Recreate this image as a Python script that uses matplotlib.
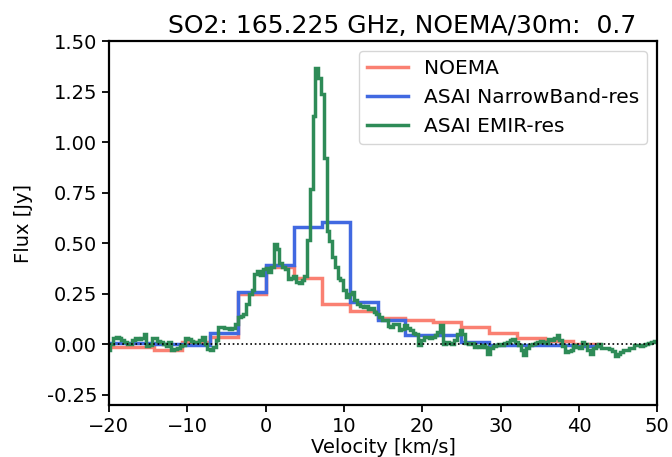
import matplotlib
matplotlib.use("Agg")
import matplotlib.pyplot as plt
import matplotlib.ticker as ticker
import numpy as np

# channel edges of the coarse spectra (km/s)
edges_coarse = [-21.30, -17.74, -14.18, -10.62, -7.06, -3.50, 0.06, 3.62, 7.18,
                10.74, 14.30, 17.86, 21.42, 24.98, 28.54, 32.10, 35.66, 39.22, 42.78]

flux_noema = [-0.013, -0.013, -0.03, 0.01, 0.035, 0.25, 0.38, 0.33, 0.20,
              0.165, 0.13, 0.12, 0.11, 0.083, 0.054, 0.03, 0.015, 0.0]

flux_narrow = [0.005, 0.005, 0.0, -0.005, 0.055, 0.26, 0.39, 0.58, 0.605,
               0.21, 0.12, 0.045, 0.045, 0.012, -0.005, -0.005, -0.005, -0.01]

# EMIR-resolution spectrum, 0.354 km/s channels starting at -20 km/s
emir_v0 = -20.0
emir_dv = 0.354
flux_emir = [
    -0.03, 0.0, 0.03, 0.035, 0.03, 0.02, 0.01, 0.0, 0.0, 0.02,
    0.03, 0.025, 0.03, 0.05, -0.01, -0.005, 0.03, 0.03, 0.015, 0.01,
    0.0, -0.01, 0.01, -0.03, -0.025, -0.02, -0.01, -0.005, 0.03, 0.025,
    0.015, 0.01, 0.01, 0.02, 0.035, 0.0, -0.025, -0.03, -0.015, 0.02,
    0.085, 0.085, 0.08, 0.08, 0.078, 0.08, 0.10, 0.135, 0.14, 0.15,
    0.20, 0.25, 0.27, 0.35, 0.365, 0.345, 0.37, 0.375, 0.36, 0.38,
    0.495, 0.47, 0.40, 0.38, 0.37, 0.325, 0.33, 0.34, 0.31, 0.305,
    0.32, 0.34, 0.515, 0.77, 1.13, 1.365, 1.32, 1.24, 0.92, 0.56,
    0.51, 0.43, 0.38, 0.33, 0.32, 0.27, 0.235, 0.25, 0.26, 0.22,
    0.20, 0.19, 0.185, 0.19, 0.175, 0.18, 0.16, 0.15, 0.135, 0.12,
    0.12, 0.09, 0.086, 0.10, 0.10, 0.07, 0.075, 0.094, 0.08, 0.07,
    0.055, 0.05, -0.005, 0.02, 0.036, 0.035, 0.03, 0.036, 0.045, 0.06,
    0.094, 0.003, 0.01, 0.005, 0.0, 0.02, 0.053, 0.07, 0.05, 0.005,
    0.0, 0.005, -0.013, -0.01, -0.013, -0.005, -0.013, -0.046, -0.02, -0.01,
    -0.005, 0.0, -0.005, 0.005, 0.01, 0.02, 0.028, 0.01, -0.005, -0.03,
    -0.054, -0.02, -0.005, 0.0, 0.005, 0.01, 0.015, 0.01, 0.005, 0.025,
    0.02, 0.03, 0.045, 0.02, -0.01, -0.038, -0.035, -0.03, -0.005, -0.015,
    -0.02, 0.01, 0.0, -0.03, -0.046, -0.02, -0.01, 0.0, -0.02, -0.02,
    -0.02, -0.025, -0.035, -0.06, -0.05, -0.04, -0.03, -0.03, -0.02, -0.02,
    -0.005, -0.005, -0.01, -0.005, 0.0, 0.005, 0.01, 0.015,
]
edges_emir = emir_v0 - emir_dv / 2 + emir_dv * np.arange(len(flux_emir) + 1)

fig = plt.figure(figsize=(6.72, 4.57), dpi=100)
ax = fig.add_axes([0.162, 0.114, 0.816, 0.796])

ax.stairs(flux_noema, edges_coarse, baseline=None, color="salmon", linewidth=2.5,
          label="NOEMA")
ax.stairs(flux_narrow, edges_coarse, baseline=None, color="royalblue", linewidth=2.5,
          label="ASAI NarrowBand-res")
ax.stairs(flux_emir, edges_emir, baseline=None, color="seagreen", linewidth=2.5,
          label="ASAI EMIR-res")
ax.axhline(0, color="k", linestyle=":", linewidth=1.2)

ax.set_xlim(-20, 50)
ax.set_ylim(-0.3, 1.5)
ax.xaxis.set_major_locator(ticker.MultipleLocator(10))
ax.yaxis.set_major_locator(ticker.MultipleLocator(0.25))
ax.yaxis.set_major_formatter(ticker.FormatStrFormatter("%.2f"))
ax.tick_params(labelsize=14, width=1.3, length=5)
for s in ax.spines.values():
    s.set_linewidth(1.6)

ax.set_title("SO2: 165.225 GHz, NOEMA/30m:  0.7", fontsize=18, x=0.535)
ax.set_xlabel("Velocity [km/s]", fontsize=14, labelpad=2)
ax.set_ylabel("Flux [Jy]", fontsize=14, labelpad=10)
ax.legend(loc="upper right", fontsize=14.5)

fig.savefig("out.png", dpi=100)
